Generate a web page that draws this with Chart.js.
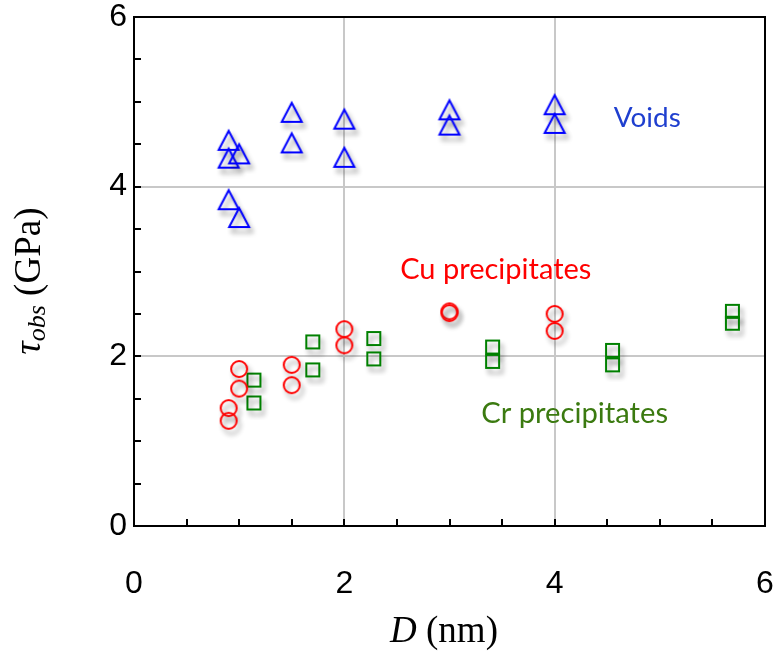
<!DOCTYPE html>
<html><head><meta charset="utf-8">
<script src="https://cdn.jsdelivr.net/npm/chart.js@4/dist/chart.umd.min.js"></script>
<style>html,body{margin:0;padding:0;background:#fff}#wrap{width:776px;height:652px;position:relative}</style>
</head><body><div id="wrap"><canvas id="c"></canvas></div>
<script>
// ---- data ----
const voidsD   = [0.9, 0.9, 1.0, 0.9, 1.0, 1.5, 1.5, 2.0, 2.0, 3.0, 3.0, 4.0, 4.0];
const voidsTau = [4.54, 4.33, 4.38, 3.84, 3.63, 4.87, 4.51, 4.79, 4.34, 4.90, 4.72, 4.96, 4.74];
const cuD      = [1.0, 1.0, 0.9, 0.9, 1.5, 1.5, 2.0, 2.0, 3.0, 3.0, 4.0, 4.0];
const cuTau    = [1.85, 1.62, 1.39, 1.24, 1.90, 1.66, 2.32, 2.13, 2.53, 2.51, 2.50, 2.30];
const crD      = [1.14, 1.14, 1.70, 1.70, 2.28, 2.28, 3.41, 3.41, 4.55, 4.55, 5.69, 5.69];
const crTau    = [1.72, 1.45, 2.17, 1.84, 2.21, 1.97, 2.11, 1.94, 2.07, 1.90, 2.53, 2.39];
const xTickLabels = [0, 2, 4, 6];
const yTickLabels = [0, 2, 4, 6];
const gridValues  = [2, 4];
const seriesNames = ['Voids', 'Cu precipitates', 'Cr precipitates'];

// ---- marker images (outline with soft drop shadow) ----
function makeMarker(kind, color) {
  const m = 10, size = kind === 'triangle' ? 20 : (kind === 'circle' ? 18 : 15);
  const S = size + 2 * m;
  const cv = document.createElement('canvas');
  cv.width = S; cv.height = S;
  const g = cv.getContext('2d');
  const c = S / 2, h = size / 2;
  g.shadowColor = 'rgba(0,0,0,0.38)';
  g.shadowBlur = 5; g.shadowOffsetX = 3; g.shadowOffsetY = 5;
  g.strokeStyle = color; g.lineWidth = 2;
  g.beginPath();
  if (kind === 'triangle') {
    g.moveTo(c, c - h); g.lineTo(c + h, c + h - 1); g.lineTo(c - h, c + h - 1); g.closePath();
  } else if (kind === 'circle') {
    g.arc(c, c, h - 1, 0, Math.PI * 2);
  } else {
    g.rect(c - h + 1, c - h + 1, size - 2, size - 2);
  }
  g.stroke();
  return cv;
}
const triImg = makeMarker('triangle', '#0000ff');
const cirImg = makeMarker('circle', '#ff0000');
const sqImg  = makeMarker('square', '#008000');

const toPts = (xs, ys) => xs.map((x, i) => ({ x: x, y: ys[i] }));

// ---- plugins ----
const framePlugin = {
  id: 'frame',
  afterDatasetsDraw(chart) {
    const { ctx, chartArea: a, scales: { x, y } } = chart;
    ctx.save();
    ctx.strokeStyle = '#000'; ctx.lineWidth = 2;
    ctx.beginPath();
    for (let v = 0.5; v < 6; v += 0.5) {
      const px = Math.round(x.getPixelForValue(v));
      ctx.moveTo(px, a.bottom); ctx.lineTo(px, a.bottom - 7);
      const py = Math.round(y.getPixelForValue(v));
      ctx.moveTo(a.left, py); ctx.lineTo(a.left + 7, py);
    }
    ctx.stroke();
    ctx.strokeRect(a.left, a.top, a.right - a.left, a.bottom - a.top);
    ctx.restore();
  }
};

const notes = [
  { text: seriesNames[0], x: 4.88, y: 4.81, color: '#1f3fcf', w: 67 },
  { text: seriesNames[1], x: 3.44, y: 3.02, color: '#ff0000', w: 191 },
  { text: seriesNames[2], x: 4.19, y: 1.33, color: '#3b7a10', w: 187 }
];

const textPlugin = {
  id: 'texts',
  afterDraw(chart) {
    const { ctx, scales: { x, y } } = chart;
    ctx.save();
    ctx.textBaseline = 'middle';
    ctx.textAlign = 'center';
    notes.forEach(n => {
      ctx.font = '28px Lato';
      const mw = ctx.measureText(n.text).width;
      const fs = 28 * n.w / mw;
      ctx.font = fs.toFixed(1) + 'px Lato';
      ctx.fillStyle = n.color;
      ctx.fillText(n.text, x.getPixelForValue(n.x), y.getPixelForValue(n.y));
    });

    // x axis title: D (nm)
    ctx.fillStyle = '#000';
    ctx.textAlign = 'left';
    const fBig = 37;
    const partsX = [['italic ' + fBig + 'px "Liberation Serif"', 'D'], [fBig + 'px "Liberation Serif"', ' (nm)']];
    let tw = 0;
    partsX.forEach(p => { ctx.font = p[0]; tw += ctx.measureText(p[1]).width; });
    let cx = 444 - tw / 2;
    partsX.forEach(p => { ctx.font = p[0]; ctx.fillText(p[1], cx, 632); cx += ctx.measureText(p[1]).width; });

    // y axis title: tau_obs (GPa)
    ctx.translate(30, 281);
    ctx.rotate(-Math.PI / 2);
    const partsY = [
      ['italic ' + fBig + 'px "Liberation Serif"', '\u03C4', 0],
      ['italic 26px "Liberation Serif"', 'obs', 8],
      [fBig + 'px "Liberation Serif"', ' (GPa)', 0]
    ];
    tw = 0;
    partsY.forEach(p => { ctx.font = p[0]; tw += ctx.measureText(p[1]).width; });
    cx = -tw / 2;
    partsY.forEach(p => { ctx.font = p[0]; ctx.fillText(p[1], cx, p[2]); cx += ctx.measureText(p[1]).width; });
    ctx.restore();
  }
};

const gridColor = c => (c.tick && gridValues.includes(c.tick.value)) ? '#c8c8c8' : 'rgba(0,0,0,0)';
const tickFont = { family: '"Liberation Sans", Arial, sans-serif', size: 32 };
const noPad = s => { s.paddingLeft = 0; s.paddingRight = 0; s.paddingTop = 0; s.paddingBottom = 0; };

new Chart(document.getElementById('c'), {
  type: 'scatter',
  data: {
    datasets: [
      { label: seriesNames[0], data: toPts(voidsD, voidsTau), pointStyle: triImg, pointRadius: 10 },
      { label: seriesNames[1], data: toPts(cuD, cuTau), pointStyle: cirImg, pointRadius: 9 },
      { label: seriesNames[2], data: toPts(crD, crTau), pointStyle: sqImg, pointRadius: 8 }
    ]
  },
  options: {
    responsive: true,
    maintainAspectRatio: false,
    animation: false,
    events: [],
    layout: { padding: { left: 0, right: 10, top: 17, bottom: 0 } },
    plugins: { legend: { display: false }, tooltip: { enabled: false } },
    scales: {
      x: {
        type: 'linear', min: 0, max: 6,
        afterFit: s => { s.height = 126; noPad(s); },
        border: { display: false },
        grid: { color: gridColor, lineWidth: 2, drawTicks: false },
        ticks: {
          stepSize: 0.5, autoSkip: false, maxRotation: 0, padding: 39,
          color: '#000', font: tickFont,
          callback: v => xTickLabels.includes(v) ? String(v) : ''
        }
      },
      y: {
        type: 'linear', min: 0, max: 6,
        afterFit: s => { s.width = 134; noPad(s); },
        border: { display: false },
        grid: { color: gridColor, lineWidth: 2, drawTicks: false },
        ticks: {
          stepSize: 0.5, autoSkip: false, padding: 7,
          color: '#000', font: tickFont,
          callback: v => yTickLabels.includes(v) ? String(v) : ''
        }
      }
    }
  },
  plugins: [framePlugin, textPlugin]
});
</script>
</body></html>
